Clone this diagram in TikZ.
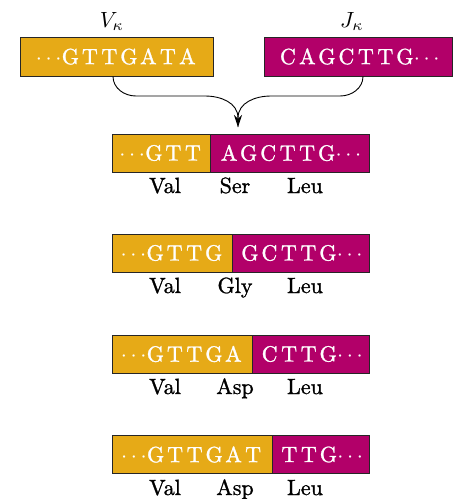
\documentclass[tikz,border=0pt]{standalone}
\usepackage{fontspec}
\setmainfont{lmroman10-regular.otf}[FakeBold=1.2]
\usetikzlibrary{arrows.meta}
\definecolor{vyel}{RGB}{230,170,23}
\definecolor{jmag}{RGB}{178,0,105}
\newcommand\bt[1]{\scalebox{2.2}{#1}}
\newcommand\nt[1]{\makebox[19.5pt]{\bt{#1}}}
\newcommand\dts{\makebox[24pt]{\bt{$\cdots$}}}
\begin{document}
\begin{tikzpicture}[x=1pt,y=-1pt,font=\fontsize{10}{12}\selectfont,
  seg/.style={draw=black!85,line width=0.8pt,inner sep=0pt,minimum height=38pt,text=white,anchor=west},
  yseg/.style={seg,fill=vyel},
  mseg/.style={seg,fill=jmag},
  aa/.style={anchor=base,inner sep=0pt},
  conn/.style={line width=0.9pt}]
\useasboundingbox (0,0) rectangle (456,499);
% top segments
\node[anchor=base,inner sep=0pt] (vl) at (112,27) {\bt{$V_\kappa$}};
\node[anchor=base,inner sep=0pt] (jl) at (352,27) {\bt{$J_\kappa$}};
\node[yseg,minimum width=193pt,minimum height=39pt] (V) at (20,56.5) {\dts\nt{G}\nt{T}\nt{T}\nt{G}\nt{A}\nt{T}\nt{A}};
\node[mseg,minimum width=188pt,minimum height=39pt] (J) at (264,56.5) {\nt{C}\nt{A}\nt{G}\nt{C}\nt{T}\nt{T}\nt{G}\dts};
% row 1
\node[yseg,minimum width=98pt] (r1a) at (112,153) {\dts\nt{G}\nt{T}\nt{T}};
\node[mseg,minimum width=159pt] (r1b) at (210,153) {\nt{A}\nt{G}\nt{C}\nt{T}\nt{T}\nt{G}\dts};
\node[aa] (a11) at (165,193) {\bt{Val}};
\node[aa] (a12) at (235,193) {\bt{Ser}};
\node[aa] (a13) at (305,193) {\bt{Leu}};
% row 2
\node[yseg,minimum width=120pt] (r2a) at (112,253) {\dts\nt{G}\nt{T}\nt{T}\nt{G}};
\node[mseg,minimum width=137pt] (r2b) at (232,253) {\nt{G}\nt{C}\nt{T}\nt{T}\nt{G}\dts};
\node[aa] (a21) at (165,293) {\bt{Val}};
\node[aa] (a22) at (235,293) {\bt{Gly}};
\node[aa] (a23) at (305,293) {\bt{Leu}};
% row 3
\node[yseg,minimum width=140pt] (r3a) at (112,354) {\dts\nt{G}\nt{T}\nt{T}\nt{G}\nt{A}};
\node[mseg,minimum width=117pt] (r3b) at (252,354) {\nt{C}\nt{T}\nt{T}\nt{G}\dts};
\node[aa] (a31) at (165,394) {\bt{Val}};
\node[aa] (a32) at (235,394) {\bt{Asp}};
\node[aa] (a33) at (305,394) {\bt{Leu}};
% row 4
\node[yseg,minimum width=160pt] (r4a) at (112,454.5) {\dts\nt{G}\nt{T}\nt{T}\nt{G}\nt{A}\nt{T}};
\node[mseg,minimum width=97pt] (r4b) at (272,454.5) {\nt{T}\nt{T}\nt{G}\dts};
\node[aa] (a41) at (165,495) {\bt{Val}};
\node[aa] (a42) at (235,495) {\bt{Asp}};
\node[aa] (a43) at (305,495) {\bt{Leu}};
% connector
\coordinate (vx) at (113,0);
\coordinate (jx) at (363,0);
\coordinate (tip) at (238,127);
\draw[conn] (V.south -| vx) to[out=-90,in=180] (136,96) -- (205,96) to[out=0,in=90] (238,118) -- (tip);
\draw[conn,-{Stealth[length=12pt,width=8pt]}] (J.south -| jx) to[out=-90,in=0] (340,96) -- (271,96) to[out=180,in=90] (238,118) -- (tip);
\end{tikzpicture}
\end{document}
